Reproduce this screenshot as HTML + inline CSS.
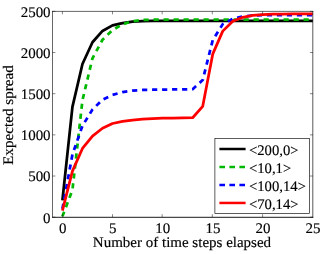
<!DOCTYPE html>
<html><head><meta charset="utf-8"><title>plot</title>
<style>
html,body{margin:0;padding:0;background:#fff;}
body{width:323px;height:254px;overflow:hidden;}
svg{display:block;}
text{font-family:"Liberation Serif",serif;font-size:14.6px;fill:#000;text-rendering:geometricPrecision;stroke:#000;stroke-width:0.15px;}
svg{will-change:transform;}
</style></head><body>
<svg width="323" height="254" viewBox="0 0 323 254">
<rect x="0" y="0" width="323" height="254" fill="#fff"/>

<clipPath id="c"><rect x="52.4" y="11.35" width="260.5" height="205.85"/></clipPath>
<g fill="none" stroke-width="2.75" stroke-linejoin="round" clip-path="url(#c)">
<path d="M62.42 200.32 L72.44 106.86 L82.46 64.05 L92.48 42.23 L102.50 30.95 L112.52 25.35 L122.53 23.04 L132.55 21.72 L142.57 21.15 L152.59 20.98 L162.61 20.90 L172.63 20.90 L182.65 20.90 L192.67 20.90 L202.69 20.90 L212.71 20.90 L222.73 20.90 L232.75 20.90 L242.77 20.90 L252.78 20.90 L262.80 20.90 L272.82 20.90 L282.84 20.90 L292.86 20.90 L302.88 20.90 L312.90 20.90" stroke="#000"/>
<path d="M62.42 216.38 L72.44 190.03 L82.46 100.28 L92.48 58.28 L102.50 39.76 L112.52 30.12 L122.53 24.28 L132.55 21.23 L142.57 20.00 L152.59 19.67 L162.61 19.50 L172.63 19.50 L182.65 19.50 L192.67 19.50 L202.69 19.50 L212.71 19.50 L222.73 19.50 L232.75 19.50 L242.77 19.50 L252.78 19.50 L262.80 19.50 L272.82 19.50 L282.84 19.50 L292.86 19.50 L302.88 19.50 L312.90 19.50" stroke="#00b800" stroke-dasharray="5.2 4.8" stroke-dashoffset="0.2"/>
<path d="M62.42 208.97 L72.44 154.46 L82.46 125.80 L92.48 109.50 L102.50 99.70 L112.52 94.93 L122.53 92.13 L132.55 90.64 L142.57 89.98 L152.59 89.74 L162.61 89.57 L172.63 89.49 L182.65 89.41 L192.67 89.16 L202.69 80.10 L212.71 40.17 L222.73 24.11 L232.75 18.76 L242.77 16.46 L252.78 15.55 L262.80 15.22 L272.82 15.14 L282.84 15.14 L292.86 15.14 L302.88 15.14 L312.90 15.14" stroke="#0000ff" stroke-dasharray="5.2 4.8" stroke-dashoffset="-0.1"/>
<path d="M62.42 210.61 L72.44 171.09 L82.46 148.45 L92.48 136.10 L102.50 128.27 L112.52 123.50 L122.53 121.44 L132.55 120.04 L142.57 119.22 L152.59 118.64 L162.61 118.23 L172.63 118.06 L182.65 117.90 L192.67 117.73 L202.69 106.45 L212.71 54.17 L222.73 31.11 L232.75 21.23 L242.77 17.28 L252.78 15.38 L262.80 14.56 L272.82 14.23 L282.84 14.07 L292.86 13.98 L302.88 13.90 L312.90 13.90" stroke="#ff0000"/>
</g>
<g stroke="#000" fill="none">
<path d="M52.5 11.05 V217.60" stroke-width="0.6"/>
<path d="M52.2 11.4 H313.3" stroke-width="0.6"/>
<path d="M312.8 11.05 V217.60" stroke-width="0.66"/>
<path d="M52.2 217.3 H313.3" stroke-width="0.9"/>
</g>
<g stroke="#000" stroke-width="0.48" fill="none">
<path d="M62.42 217.2 V214.2 M62.42 11.35 V14.35"/>
<path d="M112.52 217.2 V214.2 M112.52 11.35 V14.35"/>
<path d="M162.16 217.2 V214.2 M162.16 11.35 V14.35"/>
<path d="M212.31 217.2 V214.2 M212.31 11.35 V14.35"/>
<path d="M262.60 217.2 V214.2 M262.60 11.35 V14.35"/>
<path d="M52.4 217.20 H55.4 M312.9 217.20 H309.9"/>
<path d="M52.4 176.03 H55.4 M312.9 176.03 H309.9"/>
<path d="M52.4 134.86 H55.4 M312.9 134.86 H309.9"/>
<path d="M52.4 93.69 H55.4 M312.9 93.69 H309.9"/>
<path d="M52.4 52.52 H55.4 M312.9 52.52 H309.9"/>
<path d="M52.4 11.35 H55.4 M312.9 11.35 H309.9"/>
</g>
<text transform="translate(62.62 232.90) scale(1.025 1)" text-anchor="middle">0</text>
<text transform="translate(112.72 232.90) scale(1.025 1)" text-anchor="middle">5</text>
<text transform="translate(162.81 232.90) scale(1.025 1)" text-anchor="middle">10</text>
<text transform="translate(212.91 232.90) scale(1.025 1)" text-anchor="middle">15</text>
<text transform="translate(263.00 232.90) scale(1.025 1)" text-anchor="middle">20</text>
<text transform="translate(313.10 232.90) scale(1.025 1)" text-anchor="middle">25</text>
<text transform="translate(50.60 222.55) scale(1.025 1)" text-anchor="end">0</text>
<text transform="translate(50.60 181.38) scale(1.025 1)" text-anchor="end">500</text>
<text transform="translate(50.60 140.21) scale(1.025 1)" text-anchor="end">1000</text>
<text transform="translate(50.60 99.04) scale(1.025 1)" text-anchor="end">1500</text>
<text transform="translate(50.60 57.87) scale(1.025 1)" text-anchor="end">2000</text>
<text transform="translate(50.60 16.70) scale(1.025 1)" text-anchor="end">2500</text>
<text transform="translate(92.80 246.80) scale(1.028 1)" text-anchor="start">Number of time steps elapsed</text>
<text transform="translate(13.00 115.00) rotate(-90) scale(1.04 1)" text-anchor="middle">Expected spread</text>
<rect x="214.9" y="138.5" width="94.55" height="74.9" fill="#fff" stroke="#000" stroke-width="0.64"/>
<path d="M219.4 149.0 H245.6" stroke="#000" stroke-width="2.5" fill="none"/>
<text transform="translate(248.90 154.90) scale(1.008 1)" text-anchor="start">&lt;200,0&gt;</text>
<path d="M219.4 167.0 H245.6" stroke="#00b800" stroke-width="2.5" fill="none" stroke-dasharray="5.6 4.4"/>
<text transform="translate(248.90 172.90) scale(1.008 1)" text-anchor="start">&lt;10,1&gt;</text>
<path d="M219.4 185.05 H245.6" stroke="#0000ff" stroke-width="2.5" fill="none" stroke-dasharray="5.6 4.4"/>
<text transform="translate(248.90 190.95) scale(1.008 1)" text-anchor="start">&lt;100,14&gt;</text>
<path d="M219.4 202.95 H245.6" stroke="#ff0000" stroke-width="2.5" fill="none"/>
<text transform="translate(248.90 208.85) scale(1.008 1)" text-anchor="start">&lt;70,14&gt;</text>
</svg></body></html>
